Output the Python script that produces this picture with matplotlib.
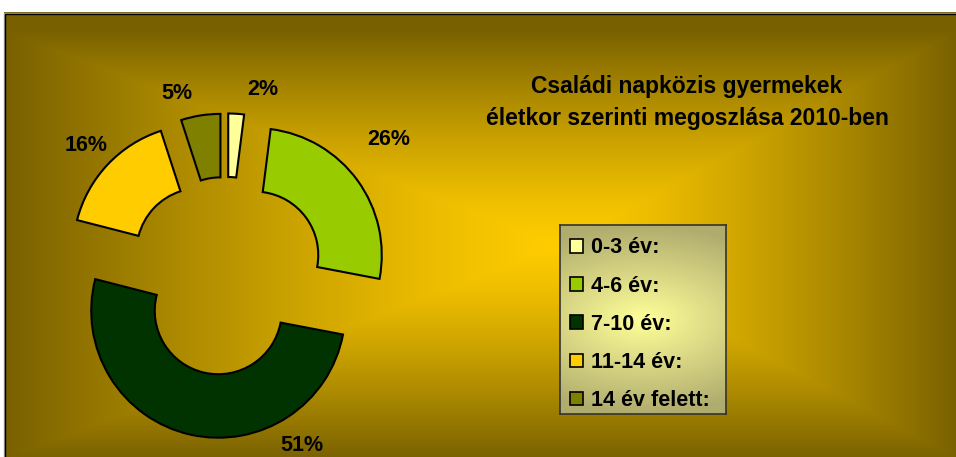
import numpy as np
import matplotlib
matplotlib.use("Agg")
import matplotlib.pyplot as plt
from matplotlib.patches import Patch, Rectangle

plt.rcParams['font.family'] = ['Liberation Sans', 'DejaVu Sans']

# data
categories = ["0-3 év:", "4-6 év:", "7-10 év:", "11-14 év:", "14 év felett:"]
shares = [2, 26, 51, 16, 5]
slice_colors = ["#FFFF99", "#99CC00", "#003300", "#FFCC00", "#808000"]
title = "Családi napközis gyermekek\néletkor szerinti megoszlása 2010-ben"

# label placement (angle in degrees, distance in radii from the donut centre)
label_angle = [79, 40, -66, 137, 105]
label_dist = [1.50, 1.67, 1.46, 1.51, 1.49]

W, H = 956, 457
fig = plt.figure(figsize=(W / 100, H / 100), dpi=100)
fig.patch.set_facecolor("white")

# background with gradient from the centre
bg = fig.add_axes([0, 0, 1, 1])
bg.set_xlim(0, W)
bg.set_ylim(H, 0)
bg.axis("off")

xs = np.arange(4, W) + 0.5
ys = np.arange(12, H) + 0.5
X, Y = np.meshgrid(xs, ys)
cx, cy = 560, 245
dx = np.where(X < cx, (cx - X) / 556.0, (X - cx) / 400.0)
dy = np.abs(Y - cy) / 215.0
t = np.clip(np.maximum(dx, dy), 0, 1) ** 1.3
c0 = np.array([255, 204, 0]) / 255.0
c1 = np.array([120, 96, 0]) / 255.0
img = c0[None, None, :] * (1 - t[..., None]) + c1[None, None, :] * t[..., None]
bg.imshow(img, extent=(4, W, H, 12), aspect="auto", interpolation="bilinear")
bg.add_patch(Rectangle((4.5, 12.5), W, H, fill=False, edgecolor="#A0A0A0", lw=1))
bg.add_patch(Rectangle((5.5, 13.5), W, H, fill=False, edgecolor="black", lw=1))

# exploded donut
R_px = 127
S = 2.5 * R_px
ccx, ccy = 226, 276
ax = fig.add_axes([(ccx - S / 2) / W, (H - ccy - S / 2) / H, S / W, S / H])
ax.patch.set_alpha(0)
wedges, _ = ax.pie(shares, colors=slice_colors, startangle=90, counterclock=False,
                   explode=[0.28] * len(shares),
                   wedgeprops=dict(width=0.5, edgecolor="black", linewidth=1.5))
for v, a, d in zip(shares, label_angle, label_dist):
    ax.text(d * np.cos(np.radians(a)), d * np.sin(np.radians(a)), f"{v}%",
            ha="center", va="center", fontsize=15.5, fontweight="bold", clip_on=False)

# title
fig.text(687 / W, 1 - 103 / H, title, ha="center", va="center",
         fontsize=16.5, fontweight="bold", linespacing=1.5)

# legend box with its own gradient
lx0, lx1, ly0, ly1 = 560, 726, 225, 414
lax = fig.add_axes([lx0 / W, (H - ly1) / H, (lx1 - lx0) / W, (ly1 - ly0) / H])
lax.set_xticks([])
lax.set_yticks([])
gy = np.linspace(-1, 1, 200)[:, None]
gx = np.linspace(-1, 1, 100)[None, :]
lt = np.clip(np.sqrt(gy ** 2 + 0.25 * gx ** 2), 0, 1)
l0 = np.array([255, 255, 153]) / 255.0
l1 = np.array([176, 172, 110]) / 255.0
limg = l0[None, None, :] * (1 - lt[..., None]) + l1[None, None, :] * lt[..., None]
lax.imshow(limg, extent=(0, 1, 0, 1), aspect="auto")
for s in lax.spines.values():
    s.set_color("#333333")
    s.set_linewidth(1.2)

handles = [Patch(facecolor=c, edgecolor="black", linewidth=1.2) for c in slice_colors]
lax.legend(handles, categories, loc="center left", bbox_to_anchor=(-0.02, 0.475),
           frameon=False, prop=dict(size=15.5, weight="bold"),
           handlelength=0.6, handleheight=0.6, handletextpad=0.4,
           labelspacing=0.8, borderaxespad=0.2)

fig.savefig("out.png", dpi=100)
